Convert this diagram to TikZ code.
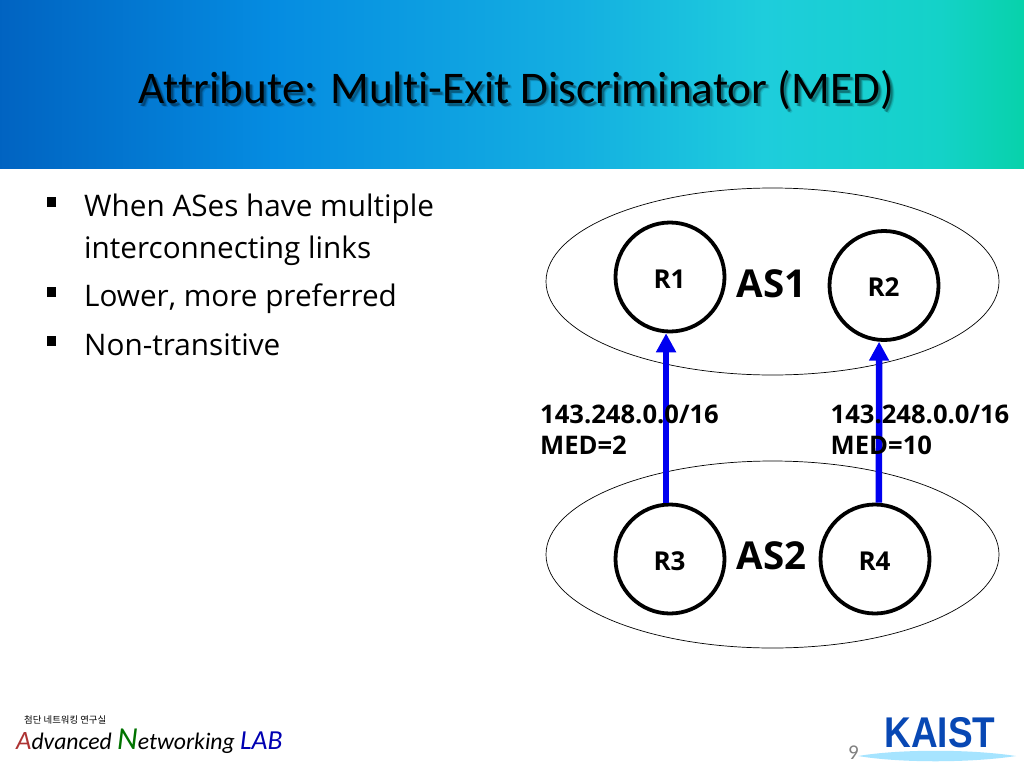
\documentclass[tikz,border=0pt]{standalone}
\usepackage{fontspec}
\setmainfont{Open Sans}
\newfontfamily\titlefont[Ligatures=NoCommon]{Carlito}
\newfontfamily\krfont{Noto Sans CJK KR}
\newfontfamily\logofont{Carlito}
\newfontfamily\kaistfont{Liberation Sans}
\usetikzlibrary{arrows.meta,shadings}
\definecolor{gA}{RGB}{0,95,190}
\definecolor{gB}{RGB}{5,140,225}
\definecolor{gC}{RGB}{20,175,225}
\definecolor{gD}{RGB}{30,205,220}
\definecolor{gE}{RGB}{20,210,200}
\definecolor{gF}{RGB}{5,210,165}
\definecolor{flow}{RGB}{0,0,240}
\definecolor{kaistblue}{RGB}{8,72,180}
\pgfdeclarehorizontalshading{bannershade}{100bp}{
  color(0bp)=(gA); color(28.5bp)=(gA); color(40.5bp)=(gB); color(52.5bp)=(gC); color(60bp)=(gD); color(67bp)=(gE); color(71bp)=(gF); color(100bp)=(gF)}
\tikzset{
  x=1pt,y=-1pt,
  asdomain/.style={draw=black,line width=0.7pt,fill=none},
  router/.style={circle,draw=black,line width=3.8pt,minimum size=109pt,inner sep=0pt,outer sep=1.9pt},
  routertext/.style={font=\fontsize{26}{30}\selectfont\bfseries},
  flowline/.style={draw=flow,line width=6.5pt,-{Triangle[length=19pt,width=19pt]}},
  astext/.style={font=\fontsize{38.5}{44}\selectfont\bfseries},
  medtext/.style={anchor=base west,font=\fontsize{25.6}{31}\selectfont\bfseries,align=left,inner sep=0pt},
  bodytext/.style={anchor=base west,font=\fontsize{29.7}{35}\selectfont,inner sep=0pt,text=black},
  bul/.style={fill=black,minimum size=9.5pt,inner sep=0pt,rectangle},
  titletext/.style={anchor=base,font=\titlefont\fontsize{45.3}{50}\selectfont,inner sep=0pt},
}
\begin{document}
\begin{tikzpicture}
\useasboundingbox (0,0) rectangle (1024,768);
\fill[white] (0,0) rectangle (1024,768);
\begin{scope}
  \clip (0,0) rectangle (1024,168);
  \node[rotate=-20,minimum width=1120pt,minimum height=600pt,inner sep=0pt,shading=bannershade] (banner) at (512,84) {};
\end{scope}
% title shadow and title
\foreach \dx/\dy/\op in {4/4/.1,3/3/.18,2/3/.22}{
  \node[titletext,text=black,opacity=\op] at (516.5+\dx,103+\dy) {Attribute: Multi-Exit Discriminator (MED)};
}
\node[titletext,text=black] (title) at (516.5,103) {Attribute: Multi-Exit Discriminator (MED)};
% bullets
\node[bul] (b1) at (51.5,202) {};
\node[bul] (b2) at (51.5,292) {};
\node[bul] (b3) at (51.5,341) {};
\node[bodytext] (t1) at (84,216) {When ASes have multiple};
\node[bodytext] (t1b) at (84,258) {interconnecting links};
\node[bodytext] (t2) at (84,306) {Lower, more preferred};
\node[bodytext] (t3) at (84,355) {Non-transitive};
% domains
\draw[asdomain] (772.5,281.5) ellipse [x radius=226.5,y radius=93.5];
\draw[asdomain] (772.5,554.5) ellipse [x radius=226.5,y radius=93.5];
% routers
\node[router] (R1) at (670,277) {};
\node[router] (R2) at (884,285.5) {};
\node[router] (R3) at (670,559) {};
\node[router] (R4) at (875,559) {};
\node[routertext] (R1t) at (669.5,279) {R1};
\node[routertext] (R2t) at (883.5,287) {R2};
\node[routertext] (R3t) at (669.5,561) {R3};
\node[routertext] (R4t) at (874.5,561) {R4};
\node[astext] (AS1) at (771.5,284) {AS1};
\node[astext] (AS2) at (771.5,556) {AS2};
% links
\draw[flowline] (R3.94) -- (R1.266);
\draw[flowline] (R4.86) -- (R2.265);
% labels
\node[medtext] (L1) at (540,454) {143.248.0.0/16\\MED=2};
\node[medtext] (L2) at (830.5,454) {143.248.0.0/16\\MED=10};
% logos
\node[font=\krfont\fontsize{9.4}{11}\selectfont,anchor=base west,inner sep=0pt] (lab) at (24,723) {첨단 네트워킹 연구실};
\node[font=\logofont\itshape\fontsize{23.7}{26}\selectfont,anchor=base west,inner sep=0pt] (logo) at (16,749) {\textcolor{red!60!black!80}{\fontsize{26.5}{26}\selectfont A}dvanced \textcolor{green!45!black}{\fontsize{32}{31}\selectfont N}etworking \textcolor{blue!70!black}{\fontsize{27.5}{27}\selectfont LAB}};
\fill[blue!30!cyan!35!white] (858,756) .. controls (900,749) and (970,749) .. (1016,756) .. controls (970,763) and (900,763) .. (858,756) -- cycle;
\node[font=\kaistfont\bfseries\fontsize{43}{43}\selectfont,text=kaistblue,anchor=base,inner sep=0pt,xscale=.86] (kaist) at (940,747) {KAIST};
\node[font=\titlefont\fontsize{21}{24}\selectfont,text=black!50,anchor=base west,inner sep=0pt] (page) at (848,759) {9};
\end{tikzpicture}
\end{document}
